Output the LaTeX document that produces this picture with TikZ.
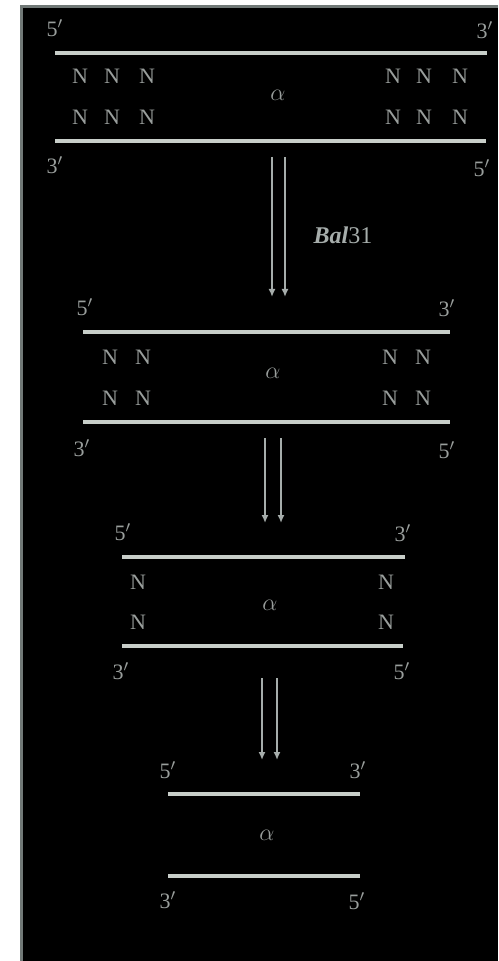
\documentclass[tikz,border=0pt]{standalone}
\usepackage{fontspec}
\setmainfont{Liberation Serif}
\usepackage{tikz}
\usetikzlibrary{arrows.meta}
\definecolor{strandgray}{HTML}{C8CEC9}
\definecolor{labelgray}{HTML}{999E9C}
\definecolor{framegray}{HTML}{717977}
\definecolor{arrowgray}{HTML}{A6ADAB}
\tikzset{
  strand/.style={draw=strandgray, line width=1.8pt},
  endlabel/.style={text=labelgray, inner sep=0pt, font=\fontsize{11}{13}\selectfont},
  baselabel/.style={text=labelgray, inner sep=0pt, font=\fontsize{11}{13}\selectfont},
  inserttag/.style={text=labelgray, inner sep=0pt, font=\large},
  enzymetag/.style={text=arrowgray, inner sep=0pt, font=\large},
  digestarrow/.style={-{Latex[length=4pt,width=3.5pt]}, draw=arrowgray, line width=0.9pt}
}

\begin{document}
\begin{tikzpicture}[x=0.5pt, y=-0.5pt]
\useasboundingbox (0,0) rectangle (498,961);
\fill[framegray] (20,5) rectangle (498,961);
\fill[black] (23,8) rectangle (498,961);

% full-length fragment
\draw[strand] (55,53) -- (487,53);
\draw[strand] (55,141) -- (486,141);
\node[endlabel] (f1tl) at (55,28) {5$'$};
\node[endlabel] (f1tr) at (485,30) {3$'$};
\node[endlabel] (f1bl) at (55,165) {3$'$};
\node[endlabel] (f1br) at (482,168) {5$'$};
\node[baselabel] (f1a1) at (80,76) {N}; \node[baselabel] (f1a2) at (112,76) {N}; \node[baselabel] (f1a3) at (147,76) {N};
\node[baselabel] (f1b1) at (80,117) {N}; \node[baselabel] (f1b2) at (112,117) {N}; \node[baselabel] (f1b3) at (147,117) {N};
\node[baselabel] (f1a4) at (393,76) {N}; \node[baselabel] (f1a5) at (424,76) {N}; \node[baselabel] (f1a6) at (460,76) {N};
\node[baselabel] (f1b4) at (393,117) {N}; \node[baselabel] (f1b5) at (424,117) {N}; \node[baselabel] (f1b6) at (460,117) {N};
\node[inserttag] (f1alpha) at (278,95) {$\alpha$};

% first round of Bal31
\coordinate (d1ls) at (272,157); \coordinate (d1le) at (272,297);
\coordinate (d1rs) at (285,157); \coordinate (d1re) at (285,297);
\draw[digestarrow] (d1ls) -- (d1le);
\draw[digestarrow] (d1rs) -- (d1re);
\node[enzymetag] (bal) at (343,235) {\textbf{\textit{Bal}}31};

% two bases removed
\draw[strand] (83,332) -- (450,332);
\draw[strand] (83,422) -- (450,422);
\node[endlabel] (f2tl) at (85,307) {5$'$};
\node[endlabel] (f2tr) at (447,308) {3$'$};
\node[endlabel] (f2bl) at (82,448) {3$'$};
\node[endlabel] (f2br) at (447,450) {5$'$};
\node[baselabel] (f2a1) at (110,357) {N}; \node[baselabel] (f2a2) at (143,357) {N};
\node[baselabel] (f2b1) at (110,398) {N}; \node[baselabel] (f2b2) at (143,398) {N};
\node[baselabel] (f2a3) at (390,357) {N}; \node[baselabel] (f2a4) at (423,357) {N};
\node[baselabel] (f2b3) at (390,398) {N}; \node[baselabel] (f2b4) at (423,398) {N};
\node[inserttag] (f2alpha) at (273,373) {$\alpha$};

\coordinate (d2ls) at (265,438); \coordinate (d2le) at (265,523);
\coordinate (d2rs) at (281,438); \coordinate (d2re) at (281,523);
\draw[digestarrow] (d2ls) -- (d2le);
\draw[digestarrow] (d2rs) -- (d2re);

% four bases removed
\draw[strand] (122,557) -- (405,557);
\draw[strand] (122,646) -- (403,646);
\node[endlabel] (f3tl) at (123,532) {5$'$};
\node[endlabel] (f3tr) at (403,533) {3$'$};
\node[endlabel] (f3bl) at (121,671) {3$'$};
\node[endlabel] (f3br) at (402,671) {5$'$};
\node[baselabel] (f3a1) at (138,582) {N}; \node[baselabel] (f3b1) at (138,622) {N};
\node[baselabel] (f3a2) at (386,582) {N}; \node[baselabel] (f3b2) at (386,622) {N};
\node[inserttag] (f3alpha) at (270,605) {$\alpha$};

\coordinate (d3ls) at (262,678); \coordinate (d3le) at (262,760);
\coordinate (d3rs) at (277,678); \coordinate (d3re) at (277,760);
\draw[digestarrow] (d3ls) -- (d3le);
\draw[digestarrow] (d3rs) -- (d3re);

% insert only
\draw[strand] (168,794) -- (360,794);
\draw[strand] (168,876) -- (360,876);
\node[endlabel] (f4tl) at (168,770) {5$'$};
\node[endlabel] (f4tr) at (358,770) {3$'$};
\node[endlabel] (f4bl) at (168,900) {3$'$};
\node[endlabel] (f4br) at (357,901) {5$'$};
\node[inserttag] (f4alpha) at (267,835) {$\alpha$};
\end{tikzpicture}
\end{document}
